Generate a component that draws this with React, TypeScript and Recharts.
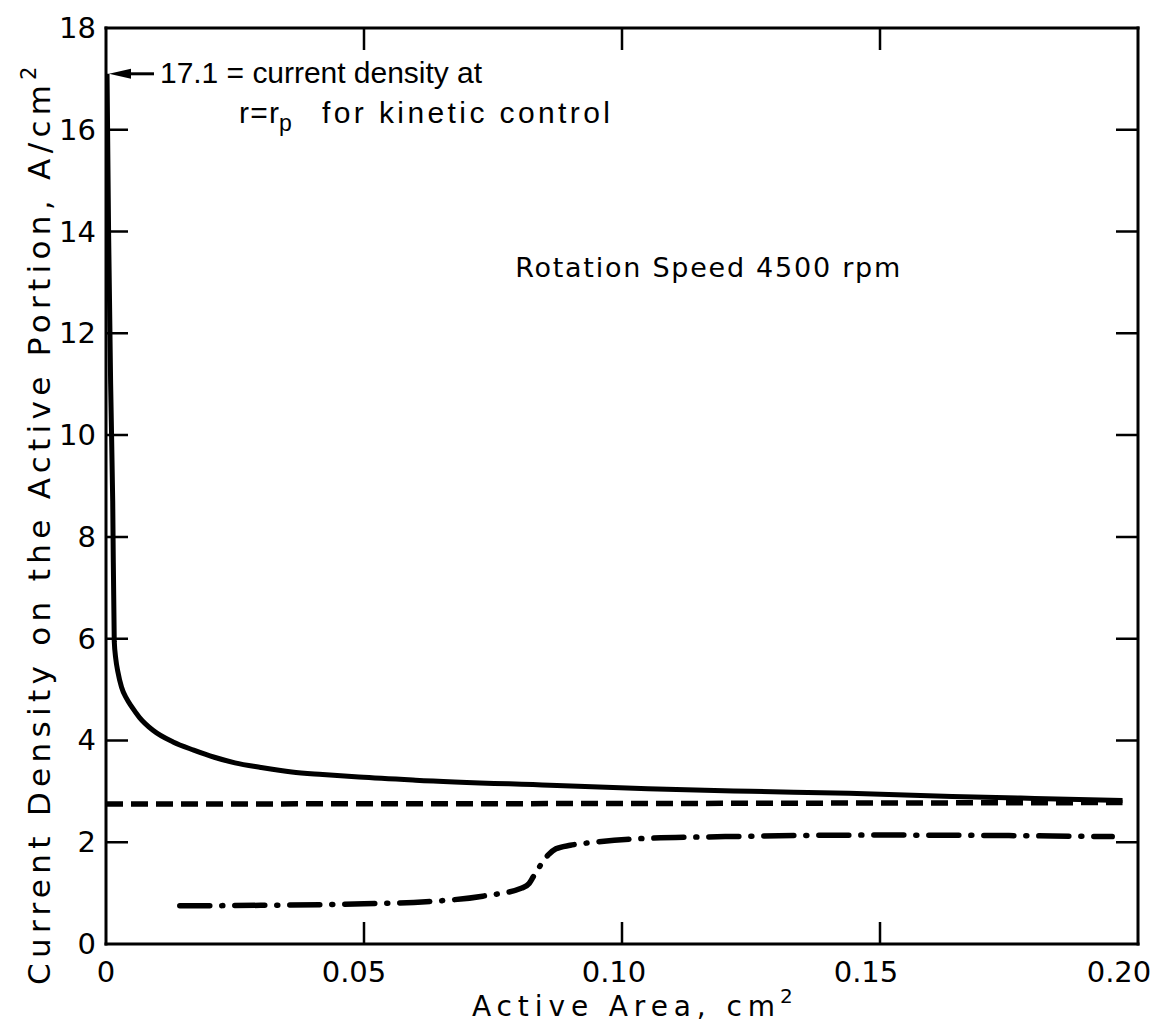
import { LineChart, Line, XAxis, YAxis, ReferenceDot, ReferenceLine } from 'recharts'

// active area (cm^2) vs current density (A/cm^2), rotation speed 4500 rpm
const solidArea = [0.0002, 0.0005, 0.0009, 0.0013, 0.0016, 0.0019, 0.0023, 0.003, 0.004, 0.005, 0.0065, 0.0091, 0.013, 0.017, 0.021, 0.025, 0.03, 0.036, 0.042, 0.049, 0.06, 0.086, 0.105, 0.125, 0.144, 0.164, 0.18, 0.197]
const solidDensity = [17.1, 14.0, 11.0, 8.7, 5.95, 5.6, 5.35, 5.05, 4.82, 4.66, 4.45, 4.2, 3.97, 3.81, 3.67, 3.56, 3.47, 3.38, 3.33, 3.28, 3.22, 3.12, 3.05, 3.0, 2.96, 2.9, 2.86, 2.82]

const dashedArea = [0, 0.1, 0.197]
const dashedDensity = [2.75, 2.76, 2.78]

const dashDotArea = [0.0143, 0.03, 0.05, 0.062, 0.073, 0.0806, 0.082, 0.0828, 0.0857, 0.0872, 0.09, 0.0948, 0.1035, 0.12, 0.15, 0.175, 0.195]
const dashDotDensity = [0.75, 0.76, 0.79, 0.83, 0.94, 1.1, 1.19, 1.32, 1.75, 1.87, 1.94, 2.0, 2.07, 2.11, 2.14, 2.13, 2.11]

const xTicks = [0, 0.05, 0.1, 0.15, 0.2]
const xInnerTicks = [0.05, 0.1, 0.15]
const yTicks = [0, 2, 4, 6, 8, 10, 12, 14, 16, 18]
const yInnerTicks = [2, 4, 6, 8, 10, 12, 14, 16]
const X_MAX = 0.2
const Y_MAX = 18
const KINETIC_LIMIT = 17.1

const FONT = '"DejaVu Sans", sans-serif'
const NOTE_FONT = '"Liberation Sans", Arial, sans-serif'
const TICK_LEN = 22
// hand-lettered x labels sit slightly left of their ticks
const xLabelShift = [0, -10, -8, -14, -19]

// layout
const WIDTH = 1161
const HEIGHT = 1028
const MARGIN = { top: 27, right: 22, left: 16, bottom: 14 }
const X_AXIS_H = 70
const Y_AXIS_W = 90
const PLOT_W = WIDTH - MARGIN.left - MARGIN.right - Y_AXIS_W - 1
const PLOT_H = HEIGHT - MARGIN.top - MARGIN.bottom - X_AXIS_H - 1

// a full-span guide dashed so only a tick at each end shows
const endTicks = (span: number) => `${TICK_LEN} ${span - 2 * TICK_LEN} ${TICK_LEN} 4000`

const toPoints = (xs: number[], ys: number[]) => xs.map((area, i) => ({ area, density: ys[i] }))
const solid = toPoints(solidArea, solidDensity)
const dashed = toPoints(dashedArea, dashedDensity)
const dashDot = toPoints(dashDotArea, dashDotDensity)

const fmtX = (v: number) => (v === 0 ? '0' : v.toFixed(2))

const bottomLabel = (props: any) => (
  <text x={Number(props.x) + xLabelShift[props.index]} y={Number(props.y)} dy={21} textAnchor="middle" fontFamily={FONT} fontSize={29} fill="#000">
    {fmtX(Number(props.payload.value))}
  </text>
)

const leftLabel = (props: any) => (
  <text x={Number(props.x)} y={Number(props.y)} dy={10} textAnchor="end" fontFamily={FONT} fontSize={29} fill="#000">
    {props.payload.value}
  </text>
)

function KineticNote({ cx, cy }: any) {
  return (
    <g fontFamily={NOTE_FONT} fill="#000">
      <polygon points={`${cx + 3},${cy} ${cx + 25},${cy - 5} ${cx + 25},${cy + 5}`} fill="#000" />
      <line x1={cx + 20} y1={cy} x2={cx + 48} y2={cy} stroke="#000" strokeWidth={3} />
      <text x={cx + 54} y={cy + 9} fontSize={30} textLength={322}>17.1 = current density at</text>
      <text x={cx + 133} y={cy + 49} fontSize={30} textLength={40}>r=r</text>
      <text x={cx + 173} y={cy + 57} fontSize={23}>p</text>
      <text x={cx + 216} y={cy + 49} fontSize={30} textLength={288}>for kinetic control</text>
    </g>
  )
}

function SpeedNote({ cx, cy }: any) {
  return (
    <text x={cx} y={cy} fontFamily={FONT} fontSize={27} textLength={385} fill="#000">
      Rotation Speed 4500 rpm
    </text>
  )
}

const xTitle = ({ viewBox }: any) => {
  const x = viewBox.x + 366
  const y = viewBox.y + 72
  return (
    <g fontFamily={FONT} fill="#000">
      <text x={x} y={y} fontSize={28} textLength={303}>Active Area, cm</text>
      <text x={x + 308} y={y - 13} fontSize={20}>2</text>
    </g>
  )
}

const yTitle = ({ viewBox }: any) => {
  const x = viewBox.x + 34
  const y = viewBox.y + viewBox.height + 41
  return (
    <g fontFamily={FONT} fill="#000">
      <text x={x} y={y} fontSize={31} textLength={900} transform={`rotate(-90 ${x} ${y})`}>
        Current Density on the Active Portion, A/cm
      </text>
      <text x={x - 14} y={y - 905} fontSize={21} transform={`rotate(-90 ${x - 14} ${y - 905})`}>2</text>
    </g>
  )
}

const axisLine = { stroke: '#000', strokeWidth: 3, strokeLinecap: 'square' as const }

export default function App() {
  return (
    <div style={{ position: 'absolute', left: 0, top: 0, background: '#fff' }}>
      <LineChart width={WIDTH} height={HEIGHT} margin={MARGIN}>
        <XAxis
          dataKey="area"
          type="number"
          domain={[0, X_MAX]}
          ticks={xTicks}
          interval={0}
          allowDataOverflow
          height={X_AXIS_H}
          tickSize={1}
          tickMargin={16}
          axisLine={axisLine}
          tickLine={false}
          tick={bottomLabel}
          label={{ content: xTitle }}
        />
        <XAxis xAxisId="top" orientation="top" type="number" domain={[0, X_MAX]} allowDataOverflow height={1} tick={false} tickLine={false} axisLine={axisLine} />
        <YAxis
          type="number"
          domain={[0, Y_MAX]}
          ticks={yTicks}
          interval={0}
          allowDataOverflow
          width={Y_AXIS_W}
          tickSize={1}
          tickMargin={9}
          axisLine={axisLine}
          tickLine={false}
          tick={leftLabel}
          label={{ content: yTitle }}
        />
        <YAxis yAxisId="right" orientation="right" type="number" domain={[0, Y_MAX]} allowDataOverflow width={1} tick={false} tickLine={false} axisLine={axisLine} />

        {/* inward tick marks: one dashed guide per value gives the tick on both opposite edges */}
        {xInnerTicks.map((v) => (
          <ReferenceLine key={`x${v}`} segment={[{ x: v, y: 0 }, { x: v, y: Y_MAX }]} stroke="#000" strokeWidth={2.5} strokeDasharray={endTicks(PLOT_H)} />
        ))}
        {yInnerTicks.map((v) => (
          <ReferenceLine key={`y${v}`} segment={[{ x: 0, y: v }, { x: X_MAX, y: v }]} stroke="#000" strokeWidth={2.5} strokeDasharray={endTicks(PLOT_W)} />
        ))}

        <Line data={dashed} dataKey="density" type="linear" stroke="#000" strokeWidth={5.5} strokeDasharray="17 8" dot={false} isAnimationActive={false} />
        <Line data={dashDot} dataKey="density" type="monotone" stroke="#000" strokeWidth={5.5} strokeDasharray="30 12 1 12" strokeLinecap="round" dot={false} isAnimationActive={false} />
        <Line data={solid} dataKey="density" type="monotone" stroke="#000" strokeWidth={5} dot={false} isAnimationActive={false} />
        <ReferenceDot x={0} y={KINETIC_LIMIT} r={0} ifOverflow="visible" shape={(p: any) => <KineticNote cx={p.cx} cy={p.cy} />} />
        <ReferenceDot x={0.0793} y={13.1} r={0} ifOverflow="visible" shape={(p: any) => <SpeedNote cx={p.cx} cy={p.cy} />} />
      </LineChart>
    </div>
  )
}
